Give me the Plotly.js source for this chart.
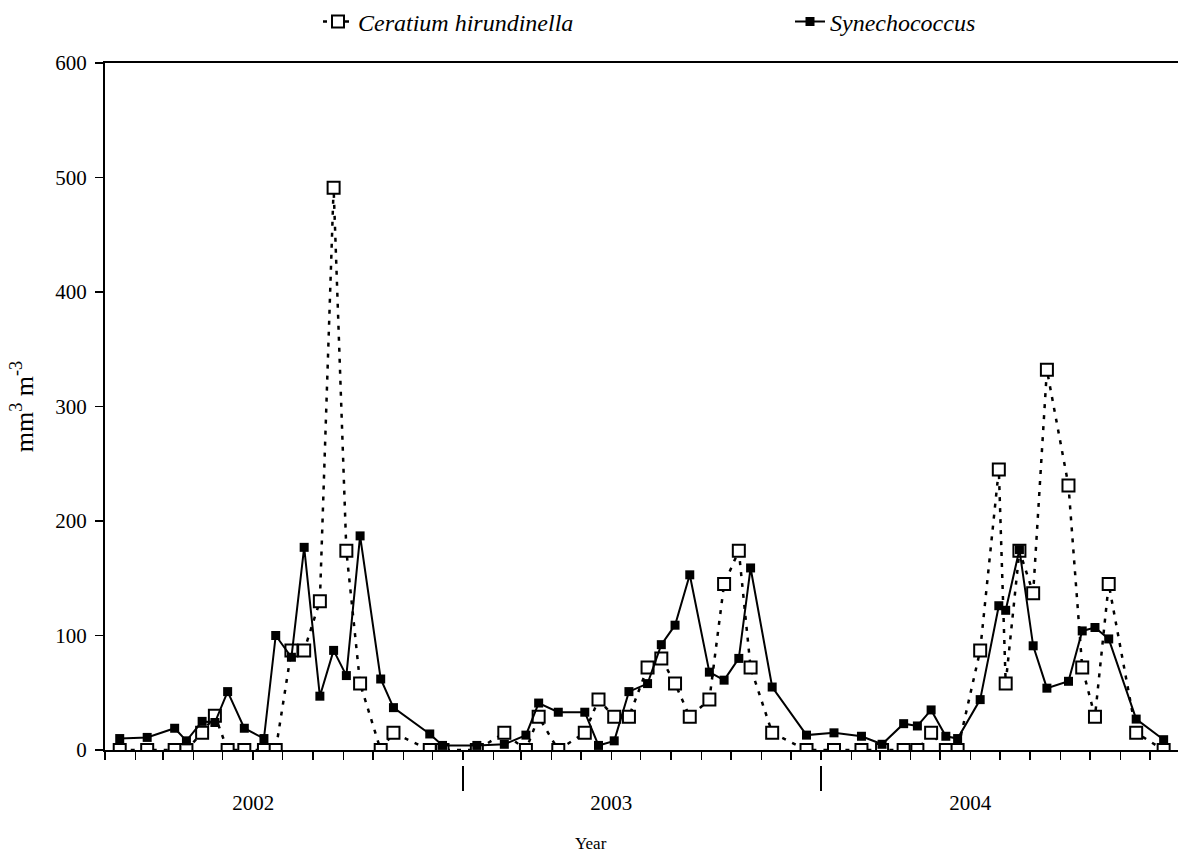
<!DOCTYPE html>
<html>
<head>
<meta charset="utf-8">
<script src="https://cdn.plot.ly/plotly-3.0.1.min.js"></script>
<style>html,body{margin:0;padding:0;background:#fff;}#chart{width:1178px;height:855px;}</style>
</head>
<body>
<div id="chart"></div>
<script>
// Sampling dates
const dates = [
  '2002-01-16','2002-02-13','2002-03-13','2002-03-25','2002-04-10','2002-04-23','2002-05-06','2002-05-23','2002-06-12','2002-06-24',
  '2002-07-10','2002-07-23','2002-08-08','2002-08-22','2002-09-04','2002-09-18','2002-10-09','2002-10-22','2002-11-28','2002-12-11',
  '2003-01-15','2003-02-12','2003-03-06','2003-03-19','2003-04-08','2003-05-05','2003-05-19','2003-06-04','2003-06-19','2003-07-08',
  '2003-07-22','2003-08-05','2003-08-20','2003-09-09','2003-09-24','2003-10-09','2003-10-21','2003-11-12','2003-12-17',
  '2004-01-14','2004-02-11','2004-03-03','2004-03-25','2004-04-08','2004-04-22','2004-05-07','2004-05-19','2004-06-11','2004-06-30',
  '2004-07-07','2004-07-21','2004-08-04','2004-08-18','2004-09-09','2004-09-23','2004-10-06','2004-10-20','2004-11-17','2004-12-15'
];
// Ceratium hirundinella biovolume (mm3 m-3)
const ceratium = [
  0,0,0,0,15,30,0,0,0,0,
  87,87,130,491,174,58,0,15,0,0,
  0,15,0,29,0,15,44,29,29,72,
  80,58,29,44,145,174,72,15,0,
  0,0,0,0,0,15,0,0,87,245,
  58,174,137,332,231,72,29,145,15,0
];
// Synechococcus biovolume (mm3 m-3)
const synechococcus = [
  10,11,19,8,25,24,51,19,10,100,
  81,177,47,87,65,187,62,37,14,4,
  4,5,13,41,33,33,4,8,51,58,
  92,109,153,68,61,80,159,55,13,
  15,12,5,23,21,35,12,10,44,126,
  122,175,91,54,60,104,107,97,27,9
];
// Axis labels
const yearBoundaries = ['2003-01-01','2004-01-01'];
const yearLabelPos = ['2002-06-01','2003-06-01','2004-06-01'];
const yearLabels = ['2002','2003','2004'];
const seriesNames = ['Ceratium hirundinella','Synechococcus'];

const FONT = 'Liberation Serif, Times New Roman, serif';
const xRange = ['2002-01-01','2004-12-29 15:00'];

const traces = [
  {
    x: dates, y: ceratium, name: seriesNames[0], type: 'scatter', mode: 'lines+markers', legend: 'legend',
    line: {color: '#000', width: 2.5, dash: '4px,7px'},
    marker: {symbol: 'square', size: 12, color: '#fff', line: {color: '#000', width: 2}}
  },
  {
    x: dates, y: synechococcus, name: seriesNames[1], type: 'scatter', mode: 'lines+markers', legend: 'legend2',
    line: {color: '#000', width: 2},
    marker: {symbol: 'square', size: 9, color: '#000', line: {color: '#000', width: 0}}
  },
  {x: [], y: [], xaxis: 'x2', yaxis: 'y', showlegend: false, hoverinfo: 'skip', type: 'scatter'},
  {x: [], y: [], xaxis: 'x3', yaxis: 'y', showlegend: false, hoverinfo: 'skip', type: 'scatter'}
];

const plotH = 855 - 63 - 90;
const legendCommon = {
  orientation: 'h', xanchor: 'left',
  y: 1 + (63 - 22) / plotH, yanchor: 'middle',
  font: {family: FONT, size: 24, style: 'italic', color: '#000'},
  bgcolor: 'rgba(0,0,0,0)', borderwidth: 0
};
const layout = {
  width: 1178, height: 855,
  margin: {l: 105, r: 0, t: 63, b: 90, autoexpand: false},
  paper_bgcolor: '#fff', plot_bgcolor: '#fff',
  font: {family: FONT, color: '#000', size: 21},
  showlegend: true,
  legend: Object.assign({}, legendCommon, {x: (318 - 105) / 1073}),
  legend2: Object.assign({}, legendCommon, {x: (790 - 105) / 1073}),
  xaxis: {
    type: 'date', range: xRange, anchor: 'y',
    dtick: 'M1', tick0: '2002-01-01',
    ticks: 'outside', ticklen: 8, tickwidth: 1.5, tickcolor: '#000',
    showticklabels: false, showgrid: false, zeroline: false,
    showline: true, linecolor: '#000', linewidth: 2, mirror: true
  },
  xaxis2: {
    type: 'date', range: xRange, overlaying: 'x', anchor: 'free', position: 0,
    tickmode: 'array', tickvals: yearBoundaries,
    ticks: 'outside', ticklen: 25, tickwidth: 1.5, tickcolor: '#000',
    showticklabels: false, showgrid: false, zeroline: false, showline: false
  },
  xaxis3: {
    type: 'date', range: xRange, overlaying: 'x', anchor: 'free', position: 0,
    tickmode: 'array', tickvals: yearLabelPos, ticktext: yearLabels,
    ticks: 'outside', ticklen: 19, tickcolor: 'rgba(0,0,0,0)',
    tickfont: {family: FONT, size: 21, color: '#000'},
    showgrid: false, zeroline: false, showline: false
  },
  yaxis: {
    domain: [15 / plotH, 1], range: [0, 600], dtick: 100,
    ticks: 'outside', ticklen: 8, tickwidth: 1.5, tickcolor: '#000',
    ticklabelstandoff: 4,
    tickfont: {family: FONT, size: 21, color: '#000'},
    showgrid: false, zeroline: false,
    showline: true, linecolor: '#000', linewidth: 2,
    title: {text: 'mm<sup>3</sup> m<sup>-3</sup>', font: {family: FONT, size: 26, color: '#000'}, standoff: 14}
  },
  annotations: [
    {text: 'Year', xref: 'paper', yref: 'paper', x: (591 - 105) / 1073, y: -78 / plotH,
     xanchor: 'center', yanchor: 'middle', showarrow: false, font: {family: FONT, size: 17, color: '#000'}}
  ]
};

Plotly.newPlot('chart', traces, layout, {displayModeBar: false, staticPlot: true});
</script>
</body>
</html>
